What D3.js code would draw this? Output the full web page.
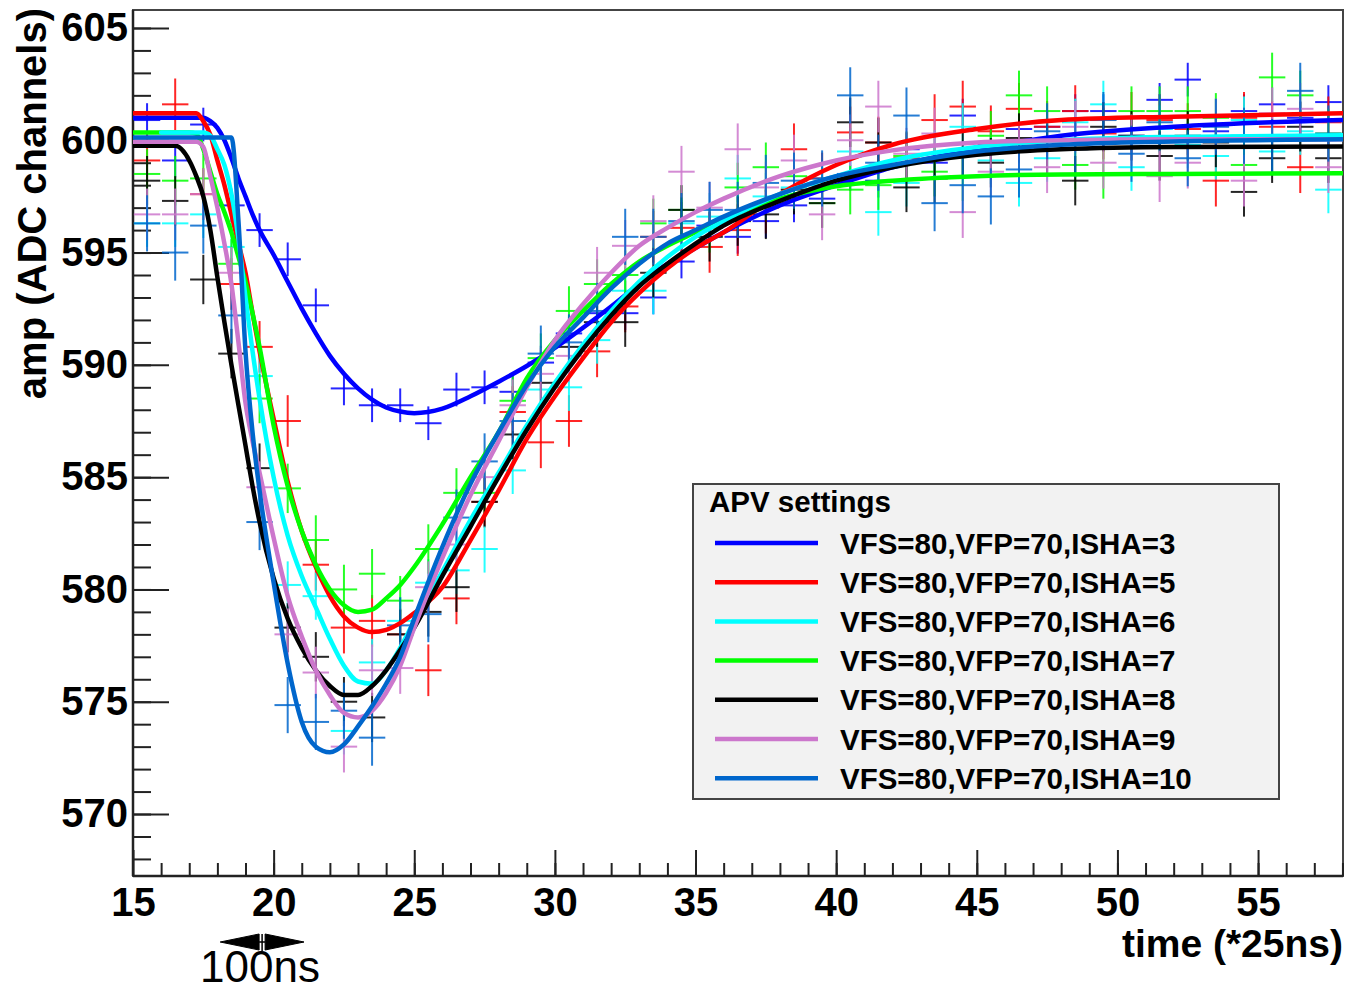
<!DOCTYPE html>
<html>
<head>
<meta charset="utf-8">
<script src="https://cdn.jsdelivr.net/npm/d3@7"></script>
<style>
  body { margin: 0; background: #ffffff; }
  svg { display: block; }
  text { font-family: "Liberation Sans", Arial, Helvetica, sans-serif; }
</style>
</head>
<body>
<svg id="chart" width="1352" height="991"></svg>
<script>
// ---------------- DATA ----------------
const seriesLabels = [
  "VFS=80,VFP=70,ISHA=3", "VFS=80,VFP=70,ISHA=5", "VFS=80,VFP=70,ISHA=6",
  "VFS=80,VFP=70,ISHA=7", "VFS=80,VFP=70,ISHA=8", "VFS=80,VFP=70,ISHA=9",
  "VFS=80,VFP=70,ISHA=10"
];
const seriesColors = ["#0000ff", "#ff0000", "#00ffff", "#00ff00", "#000000", "#cc77cc", "#0066cc"];

// bin centres (time, *25ns)
const binCenters = [15.5, 16.5, 17.5, 18.5, 19.5, 20.5, 21.5, 22.5, 23.5, 24.5, 25.5, 26.5, 27.5, 28.5,
  29.5, 30.5, 31.5, 32.5, 33.5, 34.5, 35.5, 36.5, 37.5, 38.5, 39.5, 40.5, 41.5, 42.5, 43.5, 44.5,
  45.5, 46.5, 47.5, 48.5, 49.5, 50.5, 51.5, 52.5, 53.5, 54.5, 55.5, 56.5, 57.5];
const binHalfWidth = 0.47;

// measured amplitudes per bin
const dataISHA3 = [600.9, 599.1, 600.7, 597.1, 596.0, 594.7, 592.65, 588.95, 588.2, 588.2, 587.4, 588.9, 589.0, 588.8,
  590.1, 591.4, 592.3, 592.3, 593.0, 594.6, 596.2, 595.7, 596.4, 597.1, 597.4, 598.5, 598.2, 599.6, 599.0, 601.1,
  599.8, 600.5, 600.6, 601.3, 601.3, 600.2, 601.8, 602.7, 600.4, 601.3, 601.6, 601.0, 601.7];
const dataISHA5 = [599.1, 601.6, 597.6, 593.6, 590.8, 587.5, 581.1, 578.3, 578.6, 578.0, 576.4, 579.6, 583.9, 587.9,
  586.55, 587.5, 590.6, 592.6, 595.7, 596.1, 595.25, 596.0, 597.0, 599.6, 598.3, 600.35, 599.9, 599.2, 600.9, 601.5,
  600.4, 601.4, 600.6, 601.3, 600.3, 601.0, 600.9, 600.5, 598.2, 601.0, 600.6, 598.8, 600.8];
const dataISHA6 = [596.3, 596.3, 596.7, 595.25, 589.5, 580.2, 579.7, 573.7, 576.75, 578.6, 580.3, 580.85, 581.8, 585.3,
  588.9, 589.0, 591.1, 593.3, 593.3, 596.3, 596.6, 598.3, 597.5, 597.9, 598.0, 599.5, 596.8, 598.1, 599.4, 600.6,
  599.1, 598.1, 599.2, 600.8, 601.6, 598.8, 600.5, 599.8, 599.3, 600.9, 599.5, 600.4, 597.8];
const dataISHA7 = [598.5, 598.2, 598.3, 594.5, 588.5, 584.5, 582.2, 580.0, 580.7, 579.5, 581.8, 584.3, 584.3, 588.4,
  590.3, 592.4, 593.6, 594.0, 596.3, 596.9, 596.1, 597.9, 598.8, 598.4, 597.2, 597.8, 598.0, 599.3, 598.6, 598.4,
  600.2, 602.0, 601.3, 598.9, 598.5, 601.3, 601.3, 601.3, 601.0, 598.9, 602.8, 602.0, 600.3];
const dataISHA8 = [598.2, 597.3, 593.8, 590.5, 585.4, 578.3, 577.0, 575.0, 574.3, 578.0, 579.0, 580.1, 583.9, 586.9,
  589.2, 590.8, 591.9, 591.9, 594.1, 596.9, 595.7, 596.4, 596.7, 597.8, 597.2, 600.8, 599.9, 597.9, 598.3, 599.4,
  599.0, 600.1, 599.6, 598.2, 600.6, 600.2, 599.3, 600.2, 599.9, 597.7, 599.2, 600.6, 599.2];
const dataISHA9 = [596.7, 596.7, 597.6, 594.1, 584.55, 578.0, 576.3, 573.0, 576.4, 576.5, 580.1, 582.0, 585.0, 588.2,
  589.6, 590.4, 594.1, 595.3, 596.4, 598.6, 597.0, 599.6, 597.9, 599.1, 596.7, 600.0, 601.5, 599.4, 600.3, 596.8,
  598.6, 599.6, 598.8, 600.6, 599.0, 600.0, 598.4, 599.0, 600.7, 598.2, 601.2, 601.4, 598.8];
const dataISHA10 = [596.3, 595.0, 596.2, 592.2, 583.0, 574.85, 574.1, 574.6, 573.4, 578.4, 578.9, 583.2, 585.7, 587.5,
  590.5, 591.0, 592.4, 595.7, 595.7, 596.4, 596.9, 596.9, 598.1, 598.2, 598.3, 602.0, 599.0, 601.1, 597.2, 598.0,
  597.5, 598.7, 600.4, 599.6, 600.9, 599.4, 600.8, 599.2, 600.6, 600.2, 599.7, 602.2, 600.3];
const errorHalf = [0.75, 1.15, 1.05, 1.1, 1.1, 1.15, 1.25];

const fitTime = [15, 16, 16.5, 17, 17.25, 17.5, 17.75, 18, 18.25, 18.5, 18.75, 19, 19.25, 19.5, 20, 20.5, 21, 21.5,
  22, 22.5, 23, 23.5, 24, 24.5, 25, 26, 27, 28, 29, 30, 31, 32, 33, 34, 35, 36, 38, 40, 42, 45, 48, 52, 58];
const fitISHA3 = [601.0, 601.0, 601.0, 601.0, 601.0, 601.0, 600.85, 600.55, 600.0, 599.2, 598.3, 597.5, 596.7, 596.0,
  594.9, 593.7, 592.5, 591.4, 590.4, 589.6, 588.95, 588.45, 588.1, 587.92, 587.85, 588.05, 588.6, 589.25, 589.95, 590.75,
  591.65, 592.6, 593.6, 594.5, 595.2, 595.9, 597.1, 598.0, 598.8, 599.6, 600.2, 600.6, 600.9];
const fitISHA5 = [601.2, 601.2, 601.2, 601.2, 601.2, 600.85, 600.25, 599.1, 598.0, 596.7, 595.4, 594.1, 592.3, 590.6,
  587.6, 584.8, 582.6, 581.0, 579.7, 578.8, 578.3, 578.1, 578.2, 578.5, 578.95, 580.1, 582.2, 584.4, 586.7, 588.6,
  590.3, 591.9, 593.2, 594.3, 595.2, 595.9, 597.6, 598.9, 599.8, 600.5, 600.9, 601.05, 601.2];
const fitISHA6 = [null, 600.34, 600.34, 600.34, 600.34, 600.34, 600.2, 599.6, 598.9, 597.6, 595.6, 593.0, 590.6, 588.5,
  585.0, 582.4, 580.6, 579.2, 577.8, 576.6, 575.9, 575.8, 576.4, 577.4, 578.6, 580.8, 583.1, 585.2, 587.3, 589.2,
  590.9, 592.4, 593.7, 594.8, 595.7, 596.4, 597.6, 598.4, 599.1, 599.7, 600.0, 600.15, 600.22];
const fitISHA7 = [600.35, 600.35, 600.35, 600.35, 600.3, 599.6, 598.6, 597.6, 596.8, 595.9, 594.8, 593.7, 592.3, 590.8,
  587.3, 584.6, 582.6, 581.1, 580.0, 579.3, 579.0, 579.1, 579.6, 580.2, 581.0, 582.9, 585.0, 587.0, 589.4, 591.1,
  592.4, 593.6, 594.6, 595.3, 595.9, 596.5, 597.4, 597.95, 598.2, 598.4, 598.48, 598.5, 598.53];
const fitISHA8 = [599.75, 599.75, 599.75, 599.1, 598.4, 597.5, 596.0, 593.9, 591.9, 590.0, 588.2, 586.4, 584.6, 583.0,
  580.5, 578.7, 577.4, 576.4, 575.7, 575.3, 575.3, 575.7, 576.4, 577.3, 578.3, 580.6, 582.8, 585.0, 587.1, 589.0,
  590.7, 592.2, 593.5, 594.5, 595.4, 596.2, 597.3, 598.2, 598.8, 599.35, 599.6, 599.7, 599.72];
const fitISHA9 = [599.93, 599.93, 599.93, 599.93, 599.93, 599.7, 598.4, 597.0, 595.4, 593.6, 591.0, 588.3, 586.6, 585.2,
  582.3, 579.7, 577.9, 576.4, 575.3, 574.5, 574.3, 574.6, 575.4, 576.6, 578.3, 581.4, 584.2, 586.6, 589.0, 591.1,
  592.7, 594.1, 595.3, 596.1, 596.8, 597.4, 598.4, 599.1, 599.55, 599.9, 600.0, 600.05, 600.05];
const fitISHA10 = [600.12, 600.12, 600.12, 600.12, 600.12, 600.12, 600.12, 600.12, 600.12, 600.12, 596.4, 590.6, 587.0, 584.4,
  580.3, 576.7, 574.1, 573.0, 572.75, 573.1, 573.9, 574.8, 575.8, 577.0, 578.7, 581.9, 584.7, 587.0, 589.1, 590.8,
  592.1, 593.4, 594.5, 595.4, 596.0, 596.6, 597.6, 598.4, 598.9, 599.5, 599.8, 599.95, 600.04];

const xMajorTicks = [15, 20, 25, 30, 35, 40, 45, 50, 55];
const yMajorTicks = [570, 575, 580, 585, 590, 595, 600, 605];
const xTitle = "time (*25ns)";
const yTitle = "amp (ADC channels)";
const legendTitle = "APV settings";
const arrowRange = [18.1, 21.08];   // 100 ns marker (time units)
const arrowLabel = "100ns";

const dataSets = [dataISHA3, dataISHA5, dataISHA6, dataISHA7, dataISHA8, dataISHA9, dataISHA10];
const fitSets = [fitISHA3, fitISHA5, fitISHA6, fitISHA7, fitISHA8, fitISHA9, fitISHA10];
const curveDrawOrder = [0, 1, 3, 2, 4, 5, 6];

// ---------------- LAYOUT ----------------
const svg = d3.select("#chart");
const L = 133, R = 1343, T = 10, B = 876;
const x = d3.scaleLinear().domain([15, 58.02]).range([L, R]);
const y = d3.scaleLinear().domain([567.24, 605.8]).range([B, T]);
const FONT = '"Liberation Sans", Arial, Helvetica, sans-serif';

svg.append("defs").append("clipPath").attr("id", "plotclip")
  .append("rect").attr("x", L).attr("y", T).attr("width", R - L).attr("height", B - T);

// frame (top/right)
svg.append("rect").attr("x", L).attr("y", T).attr("width", R - L).attr("height", B - T)
  .attr("fill", "none").attr("stroke", "#444").attr("stroke-width", 2);

// ---------------- AXES ----------------
const xMinor = d3.range(16, 58.5, 1);
const yMinor = d3.range(568, 605.5, 1);

const gxMinor = svg.append("g").attr("transform", `translate(0,${B})`)
  .call(d3.axisBottom(x).tickValues(xMinor).tickSize(-13).tickSizeOuter(0).tickFormat(""));
const gx = svg.append("g").attr("transform", `translate(0,${B})`)
  .call(d3.axisBottom(x).tickValues(xMajorTicks).tickSize(-26).tickSizeOuter(0).tickPadding(12).tickFormat(d3.format("d")));
const gyMinor = svg.append("g").attr("transform", `translate(${L},0)`)
  .call(d3.axisLeft(y).tickValues(yMinor).tickSize(-18).tickSizeOuter(0).tickFormat(""));
const gy = svg.append("g").attr("transform", `translate(${L},0)`)
  .call(d3.axisLeft(y).tickValues(yMajorTicks).tickSize(-36).tickSizeOuter(0).tickPadding(5).tickFormat(d3.format("d")));

[gxMinor, gx, gyMinor, gy].forEach(g => {
  g.select(".domain").remove();
  g.selectAll(".tick line").attr("stroke", "#222").attr("stroke-width", 2);
  g.selectAll("text").attr("font-family", FONT).attr("font-size", 40).attr("font-weight", "bold").attr("fill", "#000");
});

// axis lines
svg.append("line").attr("x1", L).attr("x2", L).attr("y1", T).attr("y2", B).attr("stroke", "#222").attr("stroke-width", 2.5);
svg.append("line").attr("x1", L).attr("x2", R).attr("y1", B).attr("y2", B).attr("stroke", "#222").attr("stroke-width", 2.5);

// titles
svg.append("text").attr("x", R).attr("y", 957).attr("text-anchor", "end")
  .attr("font-size", 39).attr("font-weight", "bold").text(xTitle);
svg.append("text").attr("transform", `translate(46,8) rotate(-90)`).attr("text-anchor", "end")
  .attr("font-size", 40).attr("font-weight", "bold").text(yTitle);

// ---------------- DATA CROSSES ----------------
const plot = svg.append("g").attr("clip-path", "url(#plotclip)");
dataSets.forEach((vals, si) => {
  const g = plot.append("g").attr("stroke", seriesColors[si]).attr("stroke-width", 2).attr("stroke-opacity", 0.85);
  const pts = binCenters.map((t, i) => ({ t, v: vals[i] }));
  g.selectAll("line.h").data(pts).join("line").attr("class", "h")
    .attr("x1", d => x(d.t - binHalfWidth)).attr("x2", d => x(d.t + binHalfWidth))
    .attr("y1", d => y(d.v)).attr("y2", d => y(d.v));
  g.selectAll("line.v").data(pts).join("line").attr("class", "v")
    .attr("x1", d => x(d.t)).attr("x2", d => x(d.t))
    .attr("y1", d => y(d.v - errorHalf[si])).attr("y2", d => y(d.v + errorHalf[si]));
});

// ---------------- FIT CURVES ----------------
const line = d3.line().defined(d => d.v != null).x(d => x(d.t)).y(d => y(d.v)).curve(d3.curveMonotoneX);
curveDrawOrder.forEach(si => {
  const pts = fitTime.map((t, i) => ({ t, v: fitSets[si][i] }));
  plot.append("path").datum(pts).attr("d", line)
    .attr("fill", "none").attr("stroke", seriesColors[si]).attr("stroke-width", 4.5)
    .attr("stroke-linejoin", "round").attr("stroke-linecap", "round");
});

// ---------------- LEGEND ----------------
const lg = svg.append("g");
lg.append("rect").attr("x", 693).attr("y", 484).attr("width", 586).attr("height", 315)
  .attr("fill", "#f2f2f2").attr("stroke", "#444").attr("stroke-width", 2);
lg.append("text").attr("x", 709).attr("y", 512).attr("font-size", 29.5).attr("font-weight", "bold").text(legendTitle);
seriesLabels.forEach((lab, i) => {
  const yy = 543 + i * 39.2;
  lg.append("line").attr("x1", 715).attr("x2", 818).attr("y1", yy).attr("y2", yy)
    .attr("stroke", seriesColors[i]).attr("stroke-width", 4.5);
  lg.append("text").attr("x", 840).attr("y", yy + 10.5).attr("font-size", 29.5).attr("font-weight", "bold").text(lab);
});

// ---------------- 100ns MARKER ----------------
const ax0 = x(arrowRange[0]), ax1 = x(arrowRange[1]), am = (ax0 + ax1) / 2, ay = 942;
const ann = svg.append("g").attr("fill", "#000").attr("stroke", "#000");
ann.append("path").attr("d", `M${ax0},${ay} L${am - 3},${ay - 8} L${am - 3},${ay + 8} Z`).attr("stroke-width", 1);
ann.append("path").attr("d", `M${ax1},${ay} L${am + 3},${ay - 8} L${am + 3},${ay + 8} Z`).attr("stroke-width", 1);
ann.append("line").attr("x1", am - 3).attr("x2", am + 3).attr("y1", ay).attr("y2", ay).attr("stroke-width", 1.5);
ann.append("line").attr("x1", am).attr("x2", am).attr("y1", ay - 8).attr("y2", ay + 9).attr("stroke-width", 1.5);
svg.append("text").attr("x", 200).attr("y", 982).attr("font-size", 44).attr("fill", "#000").text(arrowLabel);
</script>
</body>
</html>
